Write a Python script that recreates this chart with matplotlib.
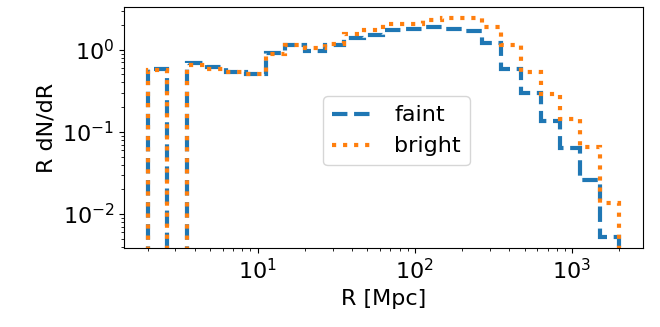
import numpy as np
import matplotlib
matplotlib.use('Agg')
import matplotlib.pyplot as plt

# log-spaced radial bins, 2 Mpc to 2 Gpc
edges = np.logspace(np.log10(2.0), np.log10(2000.0), 25)

# R dN/dR per bin
faint = [0.59, 0.0, 0.69, 0.61, 0.54, 0.51, 0.91, 1.13, 0.97, 1.13, 1.41, 1.52,
         1.74, 1.77, 1.87, 1.80, 1.70, 1.21, 0.59, 0.30, 0.134, 0.064, 0.026, 0.0052]
bright = [0.57, 0.0, 0.65, 0.59, 0.54, 0.51, 0.90, 1.15, 1.05, 1.18, 1.55, 1.72,
          2.05, 2.06, 2.30, 2.43, 2.45, 1.89, 1.15, 0.54, 0.29, 0.145, 0.066, 0.0137]

plt.rcParams['font.size'] = 16

fig = plt.figure(figsize=(6.6, 3.27), dpi=100)
ax = fig.add_axes([0.188, 0.241, 0.786, 0.738])

ax.stairs(faint, edges, color='C0', ls='--', lw=3, label='faint')
ax.stairs(bright, edges, color='C1', ls=':', lw=3, label='bright')

ax.set_xscale('log')
ax.set_yscale('log')
ax.set_xlabel('R [Mpc]')
ax.set_ylabel('R dN/dR')
ax.legend(loc='center', bbox_to_anchor=(0.525, 0.486))

fig.savefig('out.png', dpi=100)
